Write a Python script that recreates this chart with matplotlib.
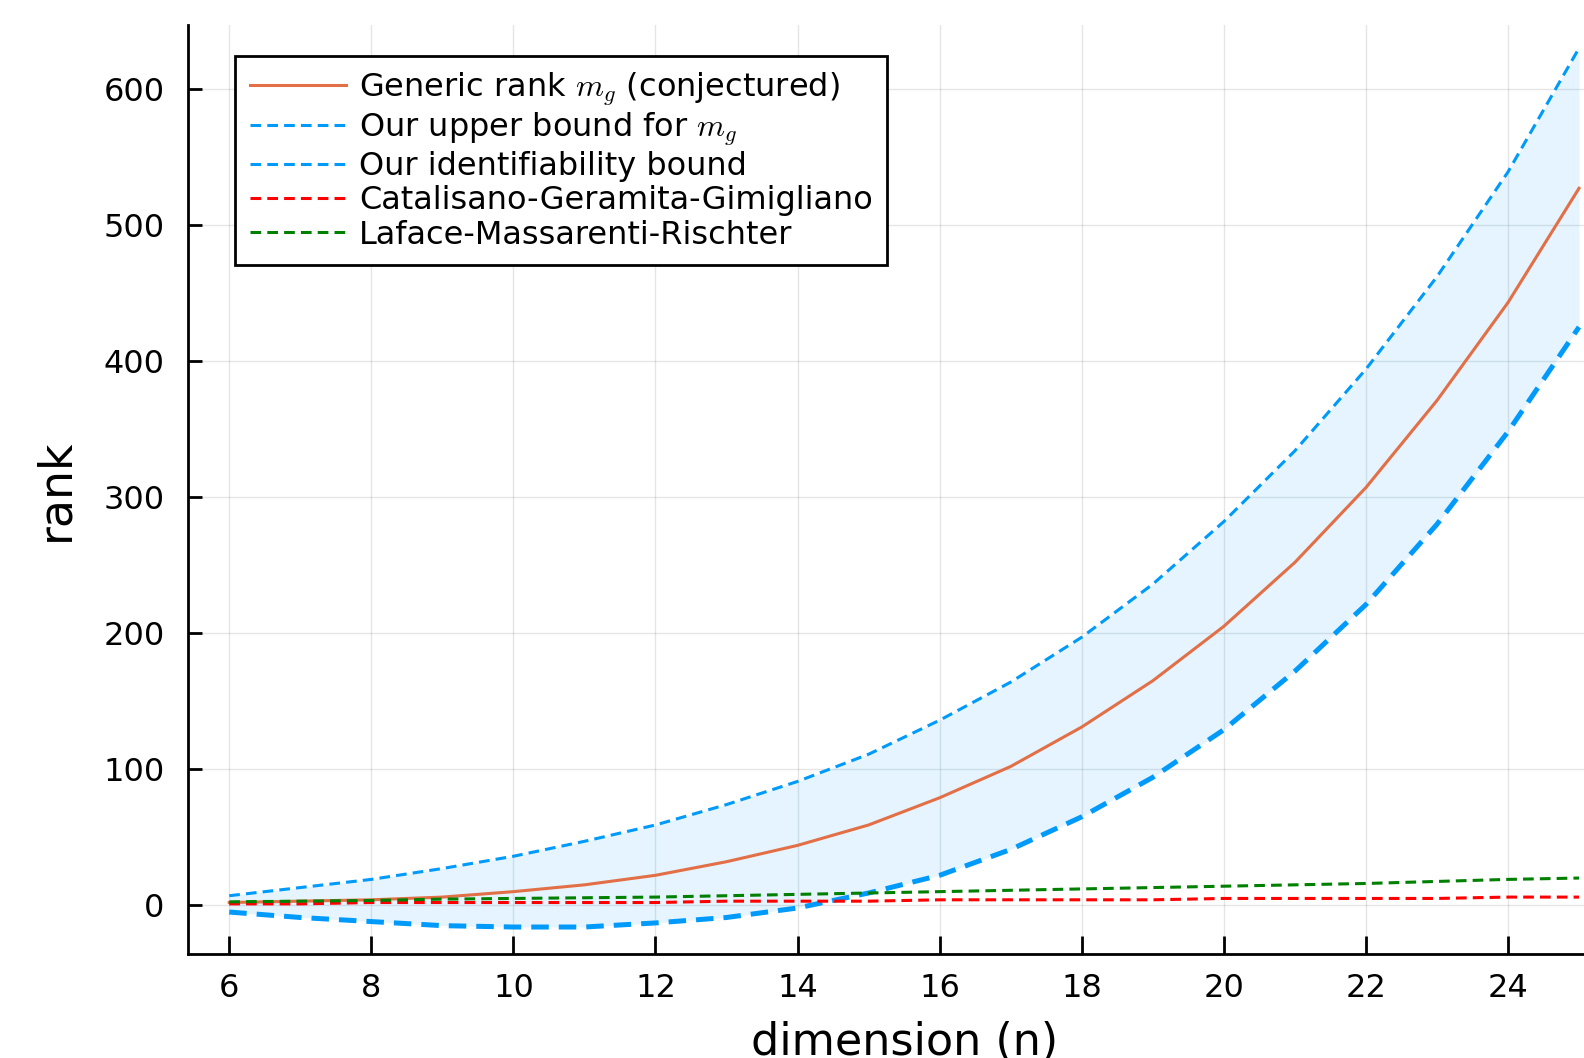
import matplotlib
matplotlib.use("Agg")
import matplotlib.pyplot as plt

plt.rcParams['mathtext.fontset'] = 'cm'

n = list(range(6, 26))

generic = [2, 3, 4, 6, 10, 15, 22, 32, 44, 59, 79, 102, 131, 165, 205, 252, 307, 371, 443, 527]
upper = [7, 13, 19, 27, 36, 47, 59, 74, 91, 111, 136, 164, 197, 236, 282, 334, 394, 462, 539, 630]
ident = [-5, -9, -12, -15, -16, -16, -13, -9, -2, 9, 22, 41, 65, 94, 129, 172, 221, 280, 348, 425]
cgg = [1, 1, 2, 2, 2, 2, 2, 3, 3, 3, 4, 4, 4, 4, 5, 5, 5, 5, 6, 6]
lmr = [2.5, 3, 3.5, 4.5, 5, 5.5, 6, 7, 8, 9, 10, 11, 12, 13, 14, 15, 16, 17.5, 19, 20]

blue = '#009AFA'
orange = '#E26F46'
dash = (0, (3.5, 2))

fig = plt.figure(figsize=(15.84, 10.58), dpi=100)
ax = fig.add_axes([0.1187, 0.0986, 0.8813, 0.8775])

ax.fill_between(n, ident, upper, color=blue, alpha=0.1, linewidth=0)
ax.plot(n, generic, color=orange, lw=2.2, label=r'Generic rank $m_g$ (conjectured)')
ax.plot(n, upper, color=blue, lw=2.2, ls=dash, label=r'Our upper bound for $m_g$')
ax.plot(n, ident, color=blue, lw=3.6, ls=dash)
ax.plot([], [], color=blue, lw=2.2, ls=dash, label='Our identifiability bound')
ax.plot(n, cgg, color='red', lw=2.2, ls=dash, label='Catalisano-Geramita-Gimigliano')
ax.plot(n, lmr, color='green', lw=2.2, ls=dash, label='Laface-Massarenti-Rischter')

ax.set_xlim(5.42, 25.07)
ax.set_ylim(-35.6, 646.8)
ax.set_xticks(range(6, 25, 2))
ax.set_yticks(range(0, 601, 100))
ax.grid(True, color='black', alpha=0.1, lw=1)
ax.set_axisbelow(True)
for s in ['top', 'right']:
    ax.spines[s].set_visible(False)
for s in ['left', 'bottom']:
    ax.spines[s].set_linewidth(2)
ax.tick_params(direction='in', length=13, width=2, labelsize=23)
ax.tick_params(axis='x', pad=14)
ax.tick_params(axis='y', length=10, pad=17)
ax.set_xlabel('dimension (n)', fontsize=32, labelpad=12)
ax.xaxis.label.set_x(0.513)
ax.set_ylabel('rank', fontsize=33, labelpad=18)

leg = ax.legend(loc='upper left', bbox_to_anchor=(0.034, 0.967), fontsize=23,
                frameon=True, fancybox=False, framealpha=1, edgecolor='black',
                handlelength=3.0, handletextpad=0.42, labelspacing=0.1,
                borderpad=0.45, borderaxespad=0)
leg.get_frame().set_linewidth(2)

fig.savefig('out.png', dpi=100)
